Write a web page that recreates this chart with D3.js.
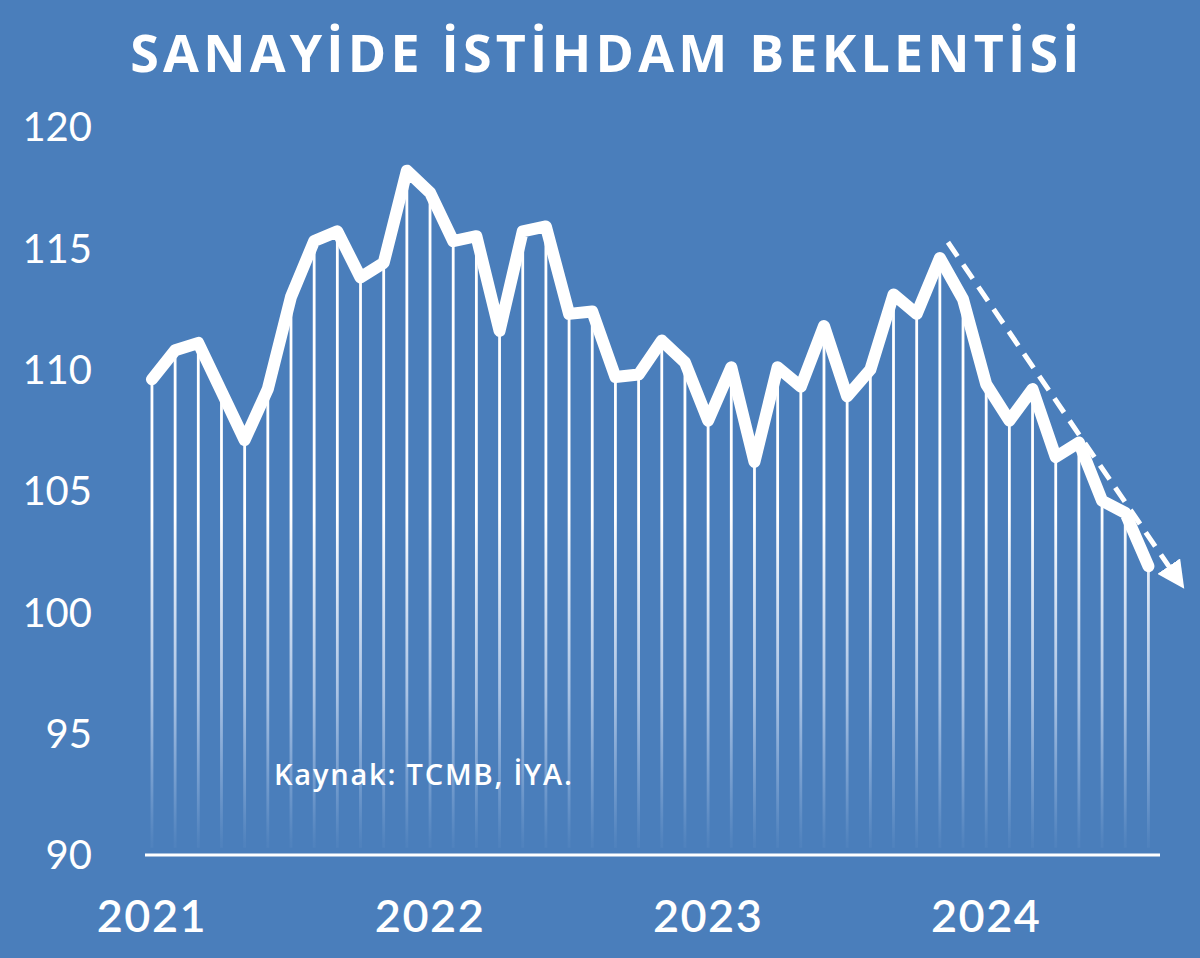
<!DOCTYPE html>
<html><head><meta charset="utf-8">
<script src="https://cdn.jsdelivr.net/npm/d3@7"></script>
<style>html,body{margin:0;padding:0;background:#4a7ebb;overflow:hidden}</style>
</head><body><svg id="c" width="1200" height="958"></svg>
<script>
const title = "SANAYİDE İSTİHDAM BEKLENTİSİ";
const source = "Kaynak: TCMB, İYA.";
const years = ["2021","2022","2023","2024"];
const yearStartIndex = [0,12,24,36];
const yTicks = [90,95,100,105,110,115,120];
// monthly values Jan 2021 – Aug 2024
const values = [109.6,110.8,111.1,109.1,107.1,109.2,113.0,115.3,115.7,113.8,114.4,118.2,
                117.3,115.3,115.5,111.6,115.7,115.9,112.3,112.4,109.7,109.8,111.2,110.3,
                107.9,110.1,106.2,110.1,109.3,111.8,108.9,110.0,113.1,112.3,114.6,112.9,
                109.4,107.9,109.2,106.4,107.0,104.6,104.1,101.9];
const trendIdx = [34.35, 44.6];
const trendVal = [115.25, 100.9];

const svg = d3.select("#c");
const W = 1200, H = 958;
svg.append("rect").attr("width",W).attr("height",H).attr("fill","#4a7ebb");

const x = d3.scaleLinear().domain([-0.3, 43.5]).range([145, 1160]);
const y = d3.scaleLinear().domain([90, 120]).range([855, 127]);

const defs = svg.append("defs");
const g = defs.append("linearGradient").attr("id","fade").attr("gradientUnits","userSpaceOnUse")
  .attr("x1",0).attr("x2",0).attr("y1",y(104)).attr("y2",y(90.5));
g.append("stop").attr("offset",0).attr("stop-color","#fff").attr("stop-opacity",1);
g.append("stop").attr("offset",0.55).attr("stop-color","#e8f0ff").attr("stop-opacity",0.6);
g.append("stop").attr("offset",1).attr("stop-color","#dde8ff").attr("stop-opacity",0.04);

// drop lines
svg.append("g").selectAll("line").data(values).join("line")
  .attr("x1",(d,i)=>x(i)).attr("x2",(d,i)=>x(i))
  .attr("y1",d=>y(d)).attr("y2",y(90.3))
  .attr("stroke","url(#fade)").attr("stroke-width",2.8);

// axis baseline
svg.append("line").attr("x1",x.range()[0]).attr("x2",x.range()[1])
  .attr("y1",y(90)).attr("y2",y(90)).attr("stroke","#fff").attr("stroke-width",3);

// y labels
svg.append("g").selectAll("text").data(yTicks).join("text")
  .attr("x",92).attr("y",d=>y(d)).attr("dy","0.36em").attr("text-anchor","end")
  .attr("fill","#fff").attr("font-family","Lato, 'Open Sans', sans-serif")
  .attr("font-size",40).text(d=>d);

// x labels
svg.append("g").selectAll("text").data(years).join("text")
  .attr("x",(d,i)=>x(yearStartIndex[i])).attr("y",932).attr("text-anchor","middle")
  .attr("fill","#fff").attr("font-family","Lato, 'Open Sans', sans-serif")
  .attr("font-weight",600).attr("letter-spacing",1.5)
  .attr("font-size",45).text(d=>d);

// main line
svg.append("path").datum(values)
  .attr("d", d3.line().x((d,i)=>x(i)).y(d=>y(d)))
  .attr("fill","none").attr("stroke","#fff").attr("stroke-width",12)
  .attr("stroke-linejoin","round").attr("stroke-linecap","round");

// trend arrow
defs.append("marker").attr("id","arr").attr("viewBox","0 0 10 10").attr("refX",5).attr("refY",5)
  .attr("markerWidth",5.5).attr("markerHeight",5.5).attr("orient","auto").attr("markerUnits","strokeWidth")
  .append("path").attr("d","M0,0 L10,5 L0,10 z").attr("fill","#fff");
svg.append("line")
  .attr("x1",x(trendIdx[0])).attr("y1",y(trendVal[0]))
  .attr("x2",x(trendIdx[1]) - 9).attr("y2",y(trendVal[1]) - 13)
  .attr("stroke","#fff").attr("stroke-width",5).attr("stroke-dasharray","17 10")
  .attr("marker-end","url(#arr)");

// title
svg.append("text").attr("x",607).attr("y",72).attr("text-anchor","middle")
  .attr("fill","#fff").attr("font-family","'Open Sans', sans-serif").attr("font-weight",700)
  .attr("font-size",52).attr("letter-spacing",4.2).text(title);

// source
svg.append("text").attr("x",274).attr("y",785)
  .attr("fill","#fff").attr("font-family","'Open Sans', sans-serif").attr("font-weight",600)
  .attr("font-size",29).attr("letter-spacing",1.8).text(source);
</script></body></html>
